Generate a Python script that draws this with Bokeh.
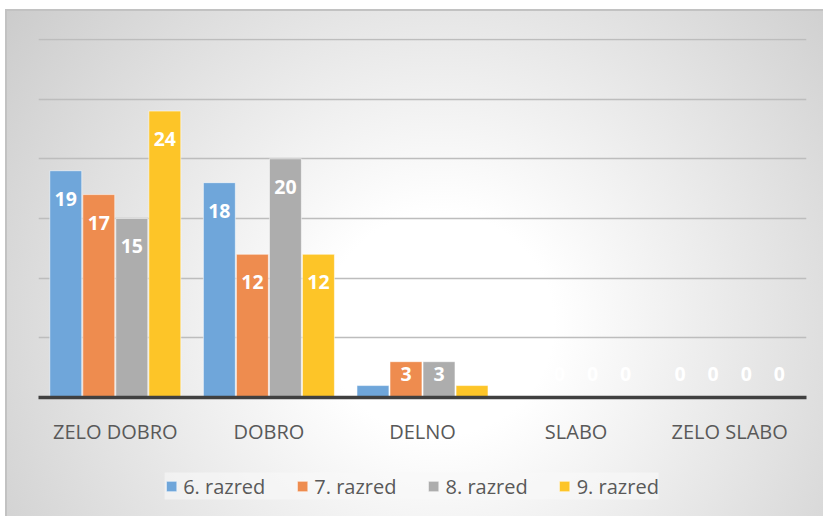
from bokeh.plotting import figure
from bokeh.layouts import column
from bokeh.models import (FactorRange, Legend, LegendItem, ColumnDataSource,
                          InlineStyleSheet, FixedTicker)
from bokeh.core.properties import value
from bokeh.transform import dodge
from bokeh.embed import file_html
from bokeh.resources import INLINE

categories = ["ZELO DOBRO", "DOBRO", "DELNO", "SLABO", "ZELO SLABO"]
series = ["6. razred", "7. razred", "8. razred", "9. razred"]
razred6 = [19, 18, 1, 0, 0]
razred7 = [17, 12, 3, 0, 0]
razred8 = [15, 20, 3, 0, 0]
razred9 = [24, 12, 1, 0, 0]
grid_ticks = [5, 10, 15, 20, 25, 30]

colors = ["#6FA6DA", "#EE8C4F", "#ADADAD", "#FDC528"]
offsets = [-0.3225, -0.1075, 0.1075, 0.3225]
FONT = "Open Sans"

css = InlineStyleSheet(css="""
:host {
  background:
    radial-gradient(ellipse 70% 110% at 53% 62%, #FFFFFF 0%, #FFFFFF 20%, #C8C8C8 100%) 7px 11px / 816px 505px no-repeat,
    linear-gradient(#C2C2C2, #C2C2C2) 5px 9px / 818px 507px no-repeat,
    #FFFFFF;
}
""")

p = figure(x_range=FactorRange(*categories), y_range=(0, 30.08),
           frame_width=768, frame_height=359, output_backend="svg", toolbar_location=None,
           min_border_left=38, min_border_right=17, min_border_top=38,
           min_border_bottom=58)
p.background_fill_alpha = 0
p.border_fill_alpha = 0
p.outline_line_color = None

for vals, name, col, off in zip([razred6, razred7, razred8, razred9], series, colors, offsets):
    ly = [v if v >= 5 else 0 for v in vals]
    yo = [28 if v >= 5 else -24 for v in vals]
    src = ColumnDataSource(dict(cat=categories, val=vals, lab=[str(v) for v in vals], ly=ly, yo=yo))
    p.vbar(x=dodge("cat", off, range=p.x_range), top="val", width=0.208, source=src,
           fill_color=col, line_color="white", line_alpha=0.55, line_width=1)
    p.text(x=dodge("cat", off, range=p.x_range), y="ly", text="lab", y_offset="yo", source=src,
           text_font=value(FONT), text_font_style="bold", text_font_size="19.5px",
           text_color="white", text_align="center", text_baseline="middle")

p.yaxis.visible = False
p.xgrid.grid_line_color = None
p.ygrid.ticker = FixedTicker(ticks=grid_ticks)
p.ygrid.grid_line_color = "#BDBDBD"
p.ygrid.grid_line_width = 1.5

xa = p.xaxis[0]
xa.axis_line_color = "#404040"
xa.axis_line_width = 3.5
xa.major_tick_line_color = None
xa.minor_tick_line_color = None
xa.major_label_text_font = FONT
xa.major_label_text_font_size = "20px"
xa.major_label_text_color = "#595959"
xa.major_label_standoff = 14

# legend strip below the chart (keys only; the swatch glyphs sit outside the visible range)
lp = figure(frame_width=802, frame_height=61, x_range=(0, 1), y_range=(0, 1),
            output_backend="svg", toolbar_location=None,
            x_axis_type=None, y_axis_type=None, min_border=0, min_border_left=21)
lp.background_fill_alpha = 0
lp.border_fill_alpha = 0
lp.outline_line_color = None
lp.grid.grid_line_color = None

items = []
for name, col in zip(series, colors):
    r = lp.vbar(x=[-10], top=[0], width=0.1, fill_color=col, line_color="white", line_alpha=0.55)
    items.append(LegendItem(label=name, renderers=[r]))

legend = Legend(items=items, orientation="horizontal", location="center",
                label_text_font=FONT, label_text_font_size="20px",
                label_text_color="#595959", glyph_width=13, glyph_height=13,
                label_standoff=6, spacing=30, padding=16, margin=0,
                background_fill_color="#F9F9F9", background_fill_alpha=0.6,
                border_line_color=None)
lp.add_layout(legend, "center")

layout = column(p, lp, spacing=0, stylesheets=[css])

open("out.html", "w").write(file_html(layout, INLINE))
